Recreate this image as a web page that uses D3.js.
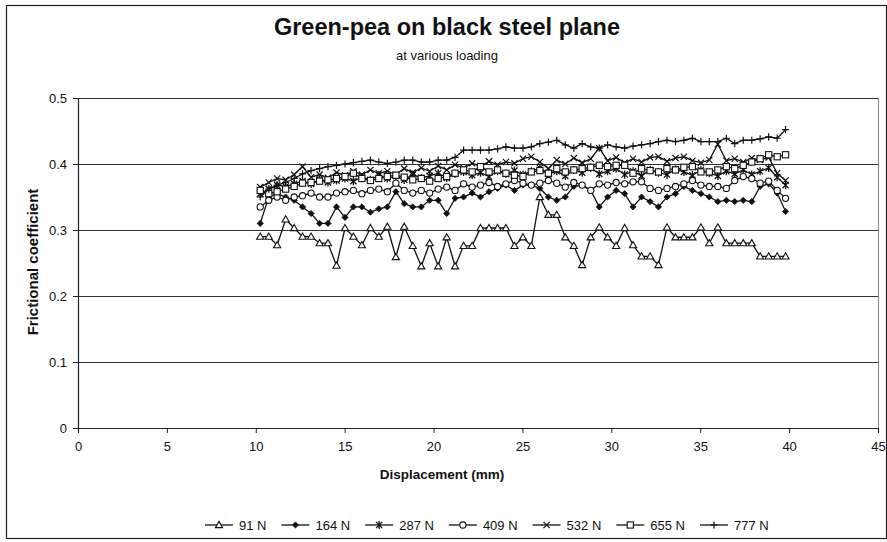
<!DOCTYPE html>
<html>
<head>
<meta charset="utf-8">
<script src="https://cdn.jsdelivr.net/npm/d3@7"></script>
<style>
  body { margin: 0; background: #fff; }
  text { font-family: "Liberation Sans", Arial, sans-serif; fill: #111; }
</style>
</head>
<body>
<div id="chart"></div>
<script>
// displacement (mm) sampled for every load
const displacement = [
  10.25, 10.73, 11.2, 11.68, 12.16, 12.63, 13.11, 13.59, 14.06, 14.54,
  15.02, 15.49, 15.97, 16.45, 16.92, 17.4, 17.88, 18.35, 18.83, 19.31,
  19.78, 20.26, 20.74, 21.21, 21.69, 22.17, 22.64, 23.12, 23.6, 24.07,
  24.55, 25.03, 25.5, 25.98, 26.46, 26.93, 27.41, 27.89, 28.36, 28.84,
  29.32, 29.79, 30.27, 30.75, 31.22, 31.7, 32.18, 32.65, 33.13, 33.61,
  34.08, 34.56, 35.04, 35.51, 35.99, 36.47, 36.94, 37.42, 37.9, 38.37,
  38.85, 39.33, 39.8
];

const load91 = [
  0.29, 0.29, 0.277, 0.316, 0.303, 0.29, 0.29, 0.28, 0.28, 0.246,
  0.303, 0.29, 0.277, 0.303, 0.29, 0.305, 0.259, 0.305, 0.276, 0.245,
  0.28, 0.245, 0.289, 0.245, 0.276, 0.276, 0.303, 0.303, 0.303, 0.303,
  0.276, 0.289, 0.276, 0.35, 0.323, 0.323, 0.289, 0.276, 0.247, 0.289,
  0.304, 0.289, 0.276, 0.303, 0.277, 0.26, 0.26, 0.247, 0.304, 0.289,
  0.289, 0.289, 0.304, 0.28, 0.304, 0.28, 0.28, 0.28, 0.28, 0.26,
  0.26, 0.26, 0.26
];
const load164 = [
  0.31, 0.35, 0.355, 0.35, 0.345, 0.335, 0.325, 0.31, 0.31, 0.335,
  0.319, 0.335, 0.335, 0.327, 0.332, 0.335, 0.358, 0.34, 0.335, 0.335,
  0.345, 0.345, 0.325, 0.348, 0.35, 0.356, 0.35, 0.358, 0.363, 0.368,
  0.36, 0.368, 0.368, 0.363, 0.35, 0.345, 0.35, 0.366, 0.368, 0.36,
  0.335, 0.35, 0.36, 0.355, 0.335, 0.35, 0.343, 0.335, 0.35, 0.355,
  0.366, 0.36, 0.355, 0.35, 0.343, 0.345, 0.343, 0.345, 0.343, 0.366,
  0.37, 0.356, 0.328
];
const load287 = [
  0.355, 0.362, 0.368, 0.366, 0.37, 0.374, 0.37, 0.376, 0.372, 0.375,
  0.378, 0.374, 0.38, 0.376, 0.383, 0.378, 0.382, 0.376, 0.384, 0.379,
  0.382, 0.386, 0.379, 0.385, 0.388, 0.383, 0.387, 0.381, 0.389, 0.385,
  0.39, 0.384, 0.389, 0.394, 0.385, 0.389, 0.382, 0.391, 0.387, 0.394,
  0.385, 0.389, 0.393, 0.384, 0.389, 0.382, 0.391, 0.387, 0.384, 0.392,
  0.388, 0.383, 0.391, 0.386, 0.382, 0.389, 0.385, 0.391, 0.384, 0.389,
  0.394, 0.38, 0.368
];
const load409 = [
  0.335, 0.345, 0.35, 0.345, 0.35, 0.352, 0.356, 0.35, 0.35, 0.356,
  0.358, 0.36, 0.355, 0.36, 0.362, 0.358, 0.371, 0.36, 0.356, 0.36,
  0.356, 0.362, 0.365, 0.36, 0.37, 0.365, 0.368, 0.372, 0.366, 0.37,
  0.375, 0.371, 0.368, 0.371, 0.375, 0.371, 0.365, 0.372, 0.368, 0.36,
  0.37, 0.368, 0.372, 0.37, 0.373, 0.373, 0.363, 0.36, 0.363, 0.366,
  0.37, 0.375, 0.368, 0.366, 0.366, 0.363, 0.375, 0.381, 0.378, 0.371,
  0.374, 0.36, 0.348
];
const load532 = [
  0.365, 0.372, 0.378, 0.376, 0.384, 0.396, 0.38, 0.384, 0.379, 0.387,
  0.383, 0.389, 0.384, 0.391, 0.386, 0.389, 0.384, 0.393, 0.387, 0.394,
  0.389, 0.397, 0.391, 0.399, 0.394, 0.401, 0.397, 0.404, 0.399, 0.403,
  0.401, 0.408, 0.411, 0.403, 0.393, 0.406, 0.4, 0.409, 0.402, 0.408,
  0.424, 0.405, 0.41, 0.402, 0.408, 0.403, 0.41, 0.411, 0.404, 0.409,
  0.411, 0.405, 0.402, 0.406, 0.43, 0.405, 0.408, 0.403, 0.409, 0.406,
  0.41, 0.386, 0.375
];
const load655 = [
  0.36, 0.355, 0.358, 0.362, 0.366, 0.371, 0.372, 0.374, 0.376, 0.378,
  0.381, 0.386, 0.378, 0.375, 0.378, 0.381, 0.383, 0.38, 0.376, 0.378,
  0.374, 0.378, 0.381, 0.386, 0.391, 0.388, 0.396, 0.388, 0.391, 0.386,
  0.383, 0.381, 0.388, 0.39, 0.386, 0.393, 0.388, 0.391, 0.393, 0.395,
  0.398, 0.396, 0.398, 0.398, 0.386, 0.393, 0.39, 0.388, 0.393, 0.391,
  0.395, 0.396, 0.388, 0.388, 0.391, 0.396, 0.393, 0.398, 0.403, 0.408,
  0.414, 0.411, 0.414
];
const load777 = [
  0.35, 0.362, 0.368, 0.372, 0.378, 0.385, 0.39, 0.393, 0.396, 0.398,
  0.4, 0.402, 0.404, 0.406, 0.403, 0.401, 0.403, 0.406, 0.406, 0.403,
  0.403, 0.406, 0.406, 0.41, 0.421, 0.421, 0.421, 0.421, 0.423, 0.426,
  0.424, 0.424, 0.426, 0.431, 0.433, 0.436, 0.429, 0.424, 0.431, 0.426,
  0.424, 0.429, 0.426, 0.424, 0.427, 0.429, 0.431, 0.434, 0.436, 0.434,
  0.436, 0.439, 0.434, 0.434, 0.434, 0.439, 0.431, 0.436, 0.436, 0.438,
  0.441, 0.439, 0.452
];

const seriesNames = ["91 N", "164 N", "287 N", "409 N", "532 N", "655 N", "777 N"];
const seriesValues = [load91, load164, load287, load409, load532, load655, load777];
const seriesMarkers = ["triangle", "diamond", "asterisk", "circle", "cross", "square", "plus"];

const xTicks = [0, 5, 10, 15, 20, 25, 30, 35, 40, 45];
const yTicks = [0, 0.1, 0.2, 0.3, 0.4, 0.5];

const width = 887, height = 542;
const svg = d3.select("#chart").append("svg")
    .attr("width", width)
    .attr("height", height);

svg.append("rect").attr("width", width).attr("height", height).attr("fill", "#fff");
// chart area border
svg.append("rect")
    .attr("x", 6.5).attr("y", 5.5)
    .attr("width", 880).attr("height", 533)
    .attr("fill", "none").attr("stroke", "#222").attr("stroke-width", 1.2);

const x = d3.scaleLinear().domain([0, 45]).range([78, 878]);
const y = d3.scaleLinear().domain([0, 0.5]).range([428, 98]);

// gridlines
svg.append("g").selectAll("line")
    .data(yTicks.filter(d => d > 0))
    .enter().append("line")
    .attr("x1", x(0)).attr("x2", x(45))
    .attr("y1", d => Math.round(y(d)) + 0.5).attr("y2", d => Math.round(y(d)) + 0.5)
    .attr("stroke", "#333").attr("stroke-width", 1.1);

svg.append("line")
    .attr("x1", x(45) + 0.5).attr("x2", x(45) + 0.5)
    .attr("y1", y(0.5)).attr("y2", y(0))
    .attr("stroke", "#888").attr("stroke-width", 1);

const yAxis = svg.append("g")
    .attr("transform", `translate(${x(0)},0)`)
    .call(d3.axisLeft(y).tickValues(yTicks).tickSize(5).tickPadding(6).tickFormat(d => String(d)));
const xAxis = svg.append("g")
    .attr("transform", `translate(0,${y(0)})`)
    .call(d3.axisBottom(x).tickValues(xTicks).tickSize(5).tickPadding(9));

[yAxis, xAxis].forEach(g => {
  g.select(".domain").attr("stroke", "#222").attr("stroke-width", 1.2);
  g.selectAll(".tick line").attr("stroke", "#222");
  g.selectAll(".tick text").attr("font-size", 13).attr("fill", "#111")
    .style("font-family", "'Liberation Sans', Arial, sans-serif");
});

// titles
svg.append("text").attr("x", 447).attr("y", 35)
    .attr("text-anchor", "middle").attr("font-size", 23.5).attr("font-weight", "bold")
    .text("Green-pea on black steel plane");
svg.append("text").attr("x", 447).attr("y", 60)
    .attr("text-anchor", "middle").attr("font-size", 13)
    .text("at various loading");
svg.append("text").attr("x", 442).attr("y", 479)
    .attr("text-anchor", "middle").attr("font-size", 13.5).attr("font-weight", "bold")
    .text("Displacement (mm)");
svg.append("text")
    .attr("transform", "translate(38,262) rotate(-90)")
    .attr("text-anchor", "middle").attr("font-size", 15).attr("font-weight", "bold")
    .text("Frictional coefficient");

// marker drawing
function drawMarker(sel, type) {
  const s = 3.1;
  if (type === "triangle") {
    sel.append("path").attr("d", `M0,${-s - 0.5}L${s + 0.5},${s - 0.5}L${-s - 0.5},${s - 0.5}Z`)
      .attr("fill", "#fff").attr("stroke", "#111").attr("stroke-width", 1.1);
  } else if (type === "diamond") {
    sel.append("path").attr("d", `M0,${-s}L${s},0L0,${s}L${-s},0Z`)
      .attr("fill", "#111").attr("stroke", "#111").attr("stroke-width", 0.8);
  } else if (type === "asterisk") {
    sel.append("path").attr("d", `M${-s},${-s}L${s},${s}M${-s},${s}L${s},${-s}M0,${-s - 1}L0,${s + 1}`)
      .attr("fill", "none").attr("stroke", "#111").attr("stroke-width", 1.3);
  } else if (type === "circle") {
    sel.append("circle").attr("r", s)
      .attr("fill", "#fff").attr("stroke", "#111").attr("stroke-width", 1.1);
  } else if (type === "cross") {
    sel.append("path").attr("d", `M${-s},${-s}L${s},${s}M${-s},${s}L${s},${-s}`)
      .attr("fill", "none").attr("stroke", "#111").attr("stroke-width", 1.2);
  } else if (type === "square") {
    sel.append("rect").attr("x", -s).attr("y", -s).attr("width", 2 * s).attr("height", 2 * s)
      .attr("fill", "#fff").attr("stroke", "#111").attr("stroke-width", 1.1);
  } else if (type === "plus") {
    sel.append("path").attr("d", `M${-s - 0.5},0L${s + 0.5},0M0,${-s - 0.5}L0,${s + 0.5}`)
      .attr("fill", "none").attr("stroke", "#111").attr("stroke-width", 1.2);
  }
}

const line = d3.line().x(d => x(d[0])).y(d => y(d[1]));

seriesValues.forEach((vals, i) => {
  const pts = displacement.map((d, j) => [d, vals[j]]);
  const g = svg.append("g").attr("class", "series");
  g.append("path").datum(pts)
    .attr("d", line)
    .attr("fill", "none").attr("stroke", "#111").attr("stroke-width", 1.3);
  g.selectAll("g.mk").data(pts).enter().append("g")
    .attr("class", "mk")
    .attr("transform", d => `translate(${x(d[0])},${y(d[1])})`)
    .each(function () { drawMarker(d3.select(this), seriesMarkers[i]); });
});

// legend
const legend = svg.append("g");
let lx = 205;
const ly = 525;
seriesNames.forEach((name, i) => {
  const item = legend.append("g").attr("transform", `translate(${lx},${ly})`);
  item.append("line").attr("x1", 0).attr("x2", 28).attr("y1", 0).attr("y2", 0)
    .attr("stroke", "#111").attr("stroke-width", 1.3);
  drawMarker(item.append("g").attr("transform", "translate(14,0)"), seriesMarkers[i]);
  const t = item.append("text").attr("x", 34).attr("y", 4.5)
    .attr("font-size", 13).text(name);
  lx += 34 + t.node().getComputedTextLength() + 15;
});
</script>
</body>
</html>
